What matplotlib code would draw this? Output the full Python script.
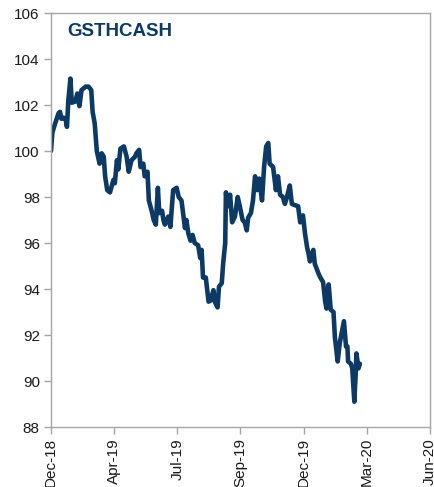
import matplotlib
matplotlib.use("Agg")
import matplotlib.pyplot as plt
import matplotlib.dates as mdates
import pandas as pd

plt.rcParams['font.family'] = ['Liberation Sans', 'DejaVu Sans']

# GSTHCASH basket level
dates = [
    "2018-12-31", "2019-01-02", "2019-01-06", "2019-01-11", "2019-01-13", "2019-01-15",
    "2019-01-18", "2019-01-21", "2019-01-23", "2019-01-25", "2019-01-28", "2019-01-30",
    "2019-02-04", "2019-02-07", "2019-02-10", "2019-02-13", "2019-02-19", "2019-02-23",
    "2019-02-27", "2019-03-01", "2019-03-04", "2019-03-07", "2019-03-11", "2019-03-14",
    "2019-03-17", "2019-03-19", "2019-03-22", "2019-03-26", "2019-03-31", "2019-04-02",
    "2019-04-05", "2019-04-07", "2019-04-10", "2019-04-15", "2019-04-19", "2019-04-22",
    "2019-04-26", "2019-05-01", "2019-05-03", "2019-05-07", "2019-05-09", "2019-05-13",
    "2019-05-15", "2019-05-19", "2019-05-21", "2019-05-25", "2019-05-28", "2019-05-31",
    "2019-06-03", "2019-06-05", "2019-06-09", "2019-06-11", "2019-06-13", "2019-06-18",
    "2019-06-21", "2019-06-25", "2019-06-30", "2019-07-03", "2019-07-07", "2019-07-10",
    "2019-07-12", "2019-07-14", "2019-07-17", "2019-07-20", "2019-07-23", "2019-07-26",
    "2019-07-31", "2019-08-03", "2019-08-05", "2019-08-07", "2019-08-11", "2019-08-15",
    "2019-08-18", "2019-08-22", "2019-08-24", "2019-08-28", "2019-08-30", "2019-09-03",
    "2019-09-05", "2019-09-08", "2019-09-09", "2019-09-12", "2019-09-15", "2019-09-18",
    "2019-09-22", "2019-09-26", "2019-09-29", "2019-10-03", "2019-10-06", "2019-10-09",
    "2019-10-11", "2019-10-15", "2019-10-18", "2019-10-21", "2019-10-24", "2019-10-27",
    "2019-10-31", "2019-11-03", "2019-11-06", "2019-11-09", "2019-11-11", "2019-11-16",
    "2019-11-20", "2019-11-23", "2019-11-26", "2019-11-30", "2019-12-03", "2019-12-06",
    "2019-12-10", "2019-12-13", "2019-12-17", "2019-12-22", "2019-12-25", "2019-12-29",
    "2020-01-01", "2020-01-04", "2020-01-06", "2020-01-08", "2020-01-13", "2020-01-15",
    "2020-01-20", "2020-01-23", "2020-01-27", "2020-01-30", "2020-02-01", "2020-02-04",
    "2020-02-07", "2020-02-11", "2020-02-13", "2020-02-17", "2020-02-20", "2020-02-24",
    "2020-02-26", "2020-02-29", "2020-03-02", "2020-03-03", "2020-03-07", "2020-03-09",
    "2020-03-12", "2020-03-14", "2020-03-15", "2020-03-18", "2020-03-20",
]
values = [
    100.0, 100.8, 101.2, 101.65, 101.7, 101.4,
    101.45, 101.4, 101.05, 102.2, 103.15, 102.1,
    102.15, 102.5, 101.95, 102.65, 102.8, 102.8,
    102.65, 101.7, 101.2, 100.0, 99.45, 99.9,
    99.75, 98.9, 98.3, 98.2, 98.75, 98.6,
    99.6, 99.2, 100.1, 100.2, 99.75, 99.1,
    99.6, 99.75, 99.9, 100.05, 99.3, 99.45,
    98.9, 99.1, 97.85, 97.4, 97.0, 96.8,
    98.4, 97.3, 97.4, 97.0, 96.8, 97.15,
    96.7, 98.3, 98.4, 98.0, 97.85, 97.15,
    96.65, 97.0, 96.4, 96.1, 96.35, 96.0,
    95.9, 95.35, 95.7, 94.5, 94.5, 93.45,
    93.5, 93.95, 93.45, 93.2, 94.1, 94.25,
    95.1, 96.0, 98.2, 97.6, 98.1, 96.9,
    97.15, 98.0, 97.6, 97.0, 96.9, 96.55,
    97.1, 97.3, 97.85, 98.9, 98.3, 98.8,
    97.85, 99.3, 100.2, 100.35, 99.45, 99.3,
    98.3, 98.9, 98.1, 98.0, 97.7, 98.0,
    98.5, 97.7, 97.65, 97.6, 96.9, 97.2,
    96.4, 95.8, 95.55, 95.2, 95.7, 95.1,
    94.7, 94.5, 94.3, 93.45, 93.15, 94.2,
    93.1, 93.0, 91.9, 90.85, 91.65, 92.3,
    92.6, 91.5, 91.5, 90.85, 90.75, 90.55,
    89.1, 90.35, 91.2, 90.55, 90.75,
]
series_name = "GSTHCASH"

# date axis: 91-day major unit from the first tick
x_ticks = pd.date_range("2018-12-31", periods=7, freq="91D")
y_ticks = list(range(88, 107, 2))

x = pd.to_datetime(dates)

fig = plt.figure(figsize=(4.35, 4.87), dpi=100)
ax = fig.add_axes([0.1172, 0.1232, 0.8713, 0.8501])

line_color = "#0c3a64"
ax.plot(x, values, color=line_color, linewidth=3.3, solid_joinstyle="round",
        solid_capstyle="round")

ax.set_xlim(x_ticks[0], x_ticks[-1])
ax.set_ylim(88, 106)
ax.set_xticks(x_ticks)
ax.xaxis.set_major_formatter(mdates.DateFormatter("%b-%y"))
ax.set_yticks(y_ticks)

spine_color = "#a6a6a6"
for s in ax.spines.values():
    s.set_color(spine_color)
    s.set_linewidth(1.0)

ax.tick_params(axis="both", direction="out", length=5, width=1.0,
               color=spine_color, labelsize=11, labelcolor="#1a1a1a")
ax.tick_params(axis="x", rotation=90, pad=3)
ax.tick_params(axis="y", pad=3)

ax.text(0.044, 0.955, series_name, transform=ax.transAxes, fontsize=13.5,
        fontweight="bold", color="#0c3a64", ha="left", va="center")

fig.savefig("out.png", dpi=100)
